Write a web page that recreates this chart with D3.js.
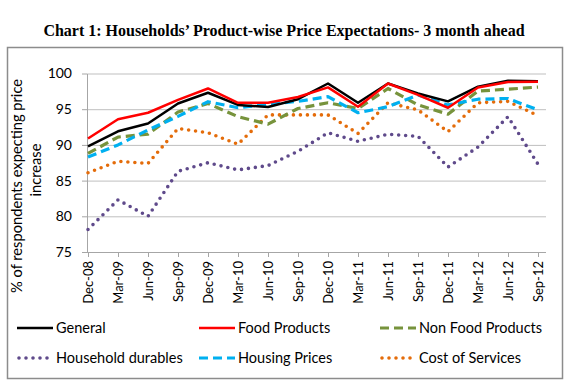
<!DOCTYPE html>
<html>
<head>
  <meta charset='utf-8'>
  <title>Chart 1: Households' Product-wise Price Expectations</title>
  <style>
    body { margin: 0; background: #fff; }
    svg text { font-family: Lato, 'Open Sans', sans-serif; fill: #000; }
    .title { font-family: 'Liberation Serif', 'Times New Roman', serif; font-weight: bold; }
    .axis path, .axis line { stroke: #a6a6a6; }
    .grid line { stroke: #bfbfbf; }
    .grid path { display: none; }
  </style>
  <script src='https://cdn.jsdelivr.net/npm/d3@7'></script>
</head>
<body>
  <svg id='chart' width='567' height='383'></svg>
  <script>
    // quarters on the x axis
    const quarters = ['Dec-08', 'Mar-09', 'Jun-09', 'Sep-09', 'Dec-09', 'Mar-10',
        'Jun-10', 'Sep-10', 'Dec-10', 'Mar-11', 'Jun-11', 'Sep-11', 'Dec-11',
        'Mar-12', 'Jun-12', 'Sep-12'];
    const yTicks = [75, 80, 85, 90, 95, 100];

    // values
    const general = [89.8, 91.9, 93.0, 95.8, 97.3, 95.6, 95.3, 96.4,
        98.6, 95.9, 98.6, 97.2, 96.1, 98.15, 99.0, 98.9];
    const foodProducts = [90.9, 93.6, 94.5, 96.3, 97.9, 95.9, 95.9, 96.7,
        98.05, 95.35, 98.6, 97.0, 95.2, 98.05, 98.8, 98.85];
    const nonFoodProducts = [88.8, 91.1, 91.5, 94.6, 95.8, 93.95, 92.9, 95.1,
        95.9, 95.1, 97.9, 95.6, 94.3, 97.55, 97.8, 98.1];
    const householdDurables = [78.15, 82.3, 80.0, 86.3, 87.5, 86.5, 87.1, 89.1,
        91.7, 90.5, 91.5, 91.2, 86.9, 89.7, 93.95, 87.3];
    const housingPrices = [88.3, 90.0, 92.1, 94.0, 96.05, 95.2, 95.7, 96.1,
        96.75, 94.5, 95.35, 97.0, 95.6, 96.4, 96.5, 94.9];
    const costOfServices = [86.1, 87.7, 87.4, 92.3, 91.7, 90.1, 94.2, 94.2,
        94.2, 91.6, 95.9, 94.9, 91.85, 95.9, 96.1, 94.1];

    const series = [
      { name: 'General', values: general, color: '#000000', dash: null, width: 2.5 },
      { name: 'Food Products', values: foodProducts, color: '#ff0000', dash: null, width: 2.5 },
      { name: 'Non Food Products', values: nonFoodProducts, color: '#77933c', dash: '9 5', width: 3.2 },
      { name: 'Household durables', values: householdDurables, color: '#5f4a8b', dash: '0 7', width: 3.6, round: true },
      { name: 'Housing Prices', values: housingPrices, color: '#00b0f0', dash: '9 5', width: 3.2 },
      { name: 'Cost of Services', values: costOfServices, color: '#e46c0a', dash: '0 7', width: 3.6, round: true }
    ];
    // draw order: dotted first, then dashed, then solid
    const drawOrder = [3, 5, 2, 4, 0, 1];

    const svg = d3.select('#chart');

    // outer frame
    svg.append('rect')
        .attr('x', 7.5).attr('y', 47.5)
        .attr('width', 555).attr('height', 331)
        .attr('fill', 'none')
        .attr('stroke', '#8c8c8c')
        .attr('stroke-width', 1.5);

    svg.append('text')
        .attr('class', 'title')
        .attr('x', 284).attr('y', 36)
        .attr('text-anchor', 'middle')
        .style('font-size', '16px')
        .text('Chart 1: Households\u2019 Product-wise Price Expectations- 3 month ahead');

    const plotLeft = 87, plotRight = 546;
    const x = d3.scalePoint()
        .domain(quarters)
        .range([88, 538]);
    const y = d3.scaleLinear()
        .domain([75, 100])
        .range([252, 73.5]);

    // horizontal gridlines
    svg.append('g')
        .attr('class', 'grid')
        .attr('transform', `translate(${plotLeft}, 0)`)
        .call(d3.axisLeft(y).tickValues(yTicks.slice(1))
            .tickSize(-(plotRight - plotLeft)).tickFormat(''));

    const gY = svg.append('g')
        .attr('class', 'axis axis-y')
        .attr('transform', `translate(${plotLeft}, 0)`)
        .call(d3.axisLeft(y).tickValues(yTicks).tickSize(5).tickSizeOuter(0).tickPadding(10));
    gY.selectAll('text').style('font-size', '14px');

    const gX = svg.append('g')
        .attr('class', 'axis axis-x')
        .attr('transform', `translate(0, ${y(75)})`)
        .call(d3.axisBottom(x).tickSize(5).tickSizeOuter(0));
    gX.select('.domain').attr('d', `M${plotLeft},0.5H${plotRight}`);
    gX.selectAll('text')
        .style('font-size', '13px')
        .attr('text-anchor', 'end')
        .attr('transform', 'rotate(-90)')
        .attr('x', -9)
        .attr('y', 0)
        .attr('dy', '0.35em');

    // y axis title
    svg.append('text')
        .attr('transform', 'translate(22, 186) rotate(-90)')
        .attr('text-anchor', 'middle')
        .style('font-size', '14.7px')
        .text('% of respondents expecting price');
    svg.append('text')
        .attr('transform', 'translate(41, 170) rotate(-90)')
        .attr('text-anchor', 'middle')
        .style('font-size', '14.7px')
        .text('increase');

    const line = d3.line()
        .x((d, i) => x(quarters[i]))
        .y(d => y(d));

    drawOrder.forEach(k => {
      const s = series[k];
      svg.append('path')
          .datum(s.values)
          .attr('fill', 'none')
          .attr('stroke', s.color)
          .attr('stroke-width', s.width)
          .attr('stroke-linejoin', 'round')
          .attr('stroke-linecap', s.round ? 'round' : 'butt')
          .attr('stroke-dasharray', s.dash)
          .attr('d', line);
    });

    // legend, two rows of three
    const legendCols = [17, 199, 380];
    const legendRows = [328, 358];
    series.forEach((s, i) => {
      const lx = legendCols[i % 3], ly = legendRows[Math.floor(i / 3)];
      const g = svg.append('g').attr('transform', `translate(${lx}, ${ly})`);
      g.append('line')
          .attr('x1', s.round ? 2 : 0).attr('x2', 36)
          .attr('y1', 0).attr('y2', 0)
          .attr('stroke', s.color)
          .attr('stroke-width', s.width)
          .attr('stroke-linecap', s.round ? 'round' : 'butt')
          .attr('stroke-dasharray', s.dash);
      g.append('text')
          .attr('x', 39).attr('y', 0)
          .attr('dy', '0.35em')
          .style('font-size', '14.5px')
          .text(s.name);
    });
  </script>
</body>
</html>
